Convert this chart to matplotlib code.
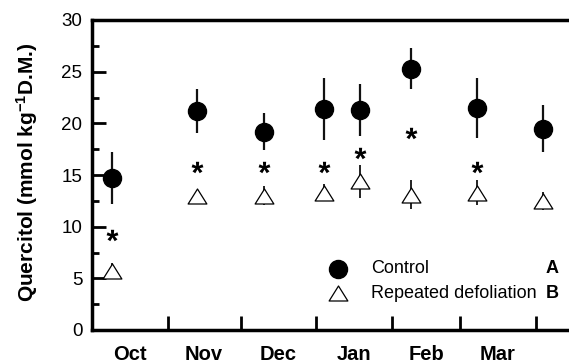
import numpy as np
import matplotlib
matplotlib.use('Agg')
import matplotlib.pyplot as plt
from matplotlib.path import Path
from matplotlib.textpath import TextPath
from matplotlib.font_manager import FontProperties

# ---------------- data ----------------
months = ['Oct', 'Nov', 'Dec', 'Jan', 'Feb', 'Mar']
month_days = [31, 30, 31, 31, 28, 31]
sample_day = [8, 43, 70.5, 95, 110, 131, 158, 185]          # days since 1 Oct
control_mean = [14.7, 21.2, 19.2, 21.4, 21.3, 25.3, 21.5, 19.5]
control_err = [2.5, 2.1, 1.8, 3.0, 2.5, 1.95, 2.9, 2.3]
defol_mean = [5.7, 13.0, 13.0, 13.3, 14.4, 13.1, 13.3, 12.5]
defol_err = [0.8, 0.5, 0.9, 0.8, 1.6, 1.4, 1.2, 0.9]
signif_day = [8, 43, 70.5, 95, 110, 131, 158]
signif_y = [9.2, 15.8, 15.8, 15.8, 17.1, 19.1, 15.8]
legend_labels = ['Control', 'Repeated defoliation']
legend_letters = ['A', 'B']

plt.rcParams['font.family'] = ['Liberation Sans', 'DejaVu Sans']
plt.rcParams['mathtext.fontset'] = 'custom'
plt.rcParams['mathtext.rm'] = 'Liberation Sans:bold'
plt.rcParams['mathtext.bf'] = 'Liberation Sans:bold'
plt.rcParams['mathtext.it'] = 'Liberation Sans:bold'

W, H = 569, 364
fig = plt.figure(figsize=(W / 100, H / 100), dpi=100)
ax_left, ax_right, ax_top, ax_bot = 92, 609, 20, 330
ax = fig.add_axes([ax_left / W, 1 - ax_bot / H, (ax_right - ax_left) / W, (ax_bot - ax_top) / H])

# asterisk marker from glyph outline, centred on its ink
fp = FontProperties(family='Liberation Sans', weight='bold')
tp = TextPath((0, 0), '*', prop=fp, size=10)
v = tp.vertices.copy()
codes = tp.codes
real = codes != Path.CLOSEPOLY
mn, mx = v[real].min(0), v[real].max(0)
v = v - (mn + mx) / 2
v[~real] = 0.0
star = Path(v, codes)
tri = Path([(0, 0.8), (-1, -0.8), (1, -0.8), (0, 0.8)],
           [Path.MOVETO, Path.LINETO, Path.LINETO, Path.CLOSEPOLY])

ax.errorbar(sample_day, control_mean, yerr=control_err, fmt='o', color='black',
            ecolor='#111111', elinewidth=1.6, capsize=0, markersize=13, zorder=3)
ax.errorbar(sample_day, defol_mean, yerr=defol_err, fmt='none',
            ecolor='#111111', elinewidth=1.3, capsize=0, zorder=2)
ax.plot(sample_day, defol_mean, linestyle='none', marker=tri, markersize=13.5,
        markerfacecolor='white', markeredgecolor='black', markeredgewidth=0.9, zorder=3)
ax.plot(signif_day, signif_y, linestyle='none', marker=star, markersize=8.5,
        color='black', markeredgewidth=0, zorder=3)

# legend (manual)
ax.plot([0.476], [0.197], transform=ax.transAxes, marker='o', markersize=13,
        color='black', linestyle='none', clip_on=False)
ax.plot([0.476], [0.119], transform=ax.transAxes, marker=tri, markersize=13.5,
        markerfacecolor='white', markeredgecolor='black', markeredgewidth=0.9,
        linestyle='none', clip_on=False)
for yy, lab, let in zip([0.197, 0.119], legend_labels, legend_letters):
    ax.text(0.539, yy, lab, transform=ax.transAxes, ha='left', va='center', fontsize=13)
    ax.text(0.903, yy, let, transform=ax.transAxes, ha='right', va='center',
            fontsize=13, fontweight='bold')

# axes
ax.set_ylim(0, 30)
ax.set_xlim(0, 212)
bounds = np.cumsum(month_days)
centers = bounds - np.array(month_days) / 2
ax.set_xticks(bounds)
ax.set_xticklabels([])
ax.set_xticks(centers, minor=True)
ax.set_xticklabels(months, minor=True, fontsize=14.5, fontweight='bold')
ax.tick_params(axis='x', which='major', direction='in', length=10, width=2)
ax.tick_params(axis='x', which='minor', length=0, pad=10.5)
ax.set_yticks(np.arange(0, 31, 5))
ax.set_yticks(np.arange(2.5, 30, 5), minor=True)
ax.tick_params(axis='y', which='major', direction='in', length=10, width=2,
               labelsize=13.5, pad=7)
ax.tick_params(axis='y', which='minor', direction='in', length=5, width=2)
for s in ['left', 'bottom', 'top', 'right']:
    ax.spines[s].set_linewidth(2.5)

fig.text(27.5 / W, 1 - 172 / H, 'Quercitol (mmol kg$^{-1}$D.M.)', rotation=90,
         ha='center', va='center', fontsize=15, fontweight='bold')

fig.savefig('out.png', dpi=100)
